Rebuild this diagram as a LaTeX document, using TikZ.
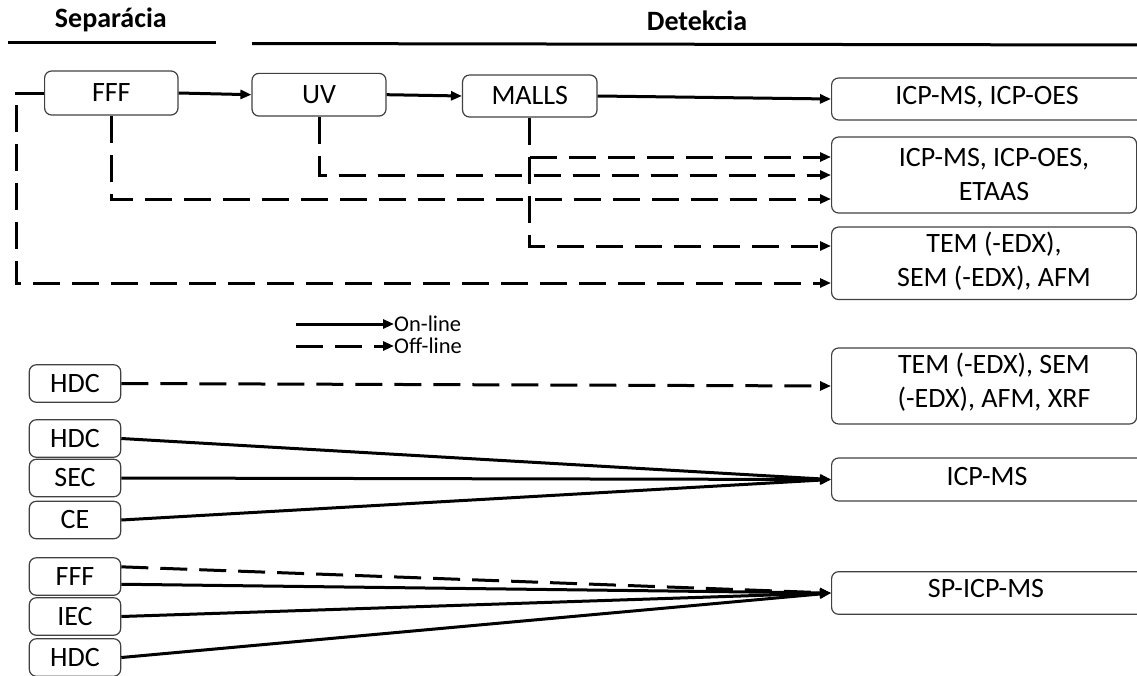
\documentclass[tikz,border=0pt]{standalone}
\usepackage{fontspec}
\setmainfont{Carlito}
\usetikzlibrary{arrows.meta,calc}
\begin{document}
\begin{tikzpicture}[x=1pt,y=-1pt,
  box/.style={draw=black!75, line width=1.2pt, rounded corners=7pt, inner sep=0pt},
  tbox/.style={box, font=\fontsize{28}{34}\selectfont},
  lbox/.style={box, minimum width=91.4pt, minimum height=37.5pt, font=\fontsize{28}{34}\selectfont},
  rbox/.style={box, anchor=west},
  lbl/.style={inner sep=0pt, align=center, font=\fontsize{28}{34}\selectfont},
  online/.style={line width=3pt, -{Triangle[length=11pt,width=9pt]}},
  offline/.style={online, dash pattern=on 27pt off 12pt},
  plain/.style={line width=3pt},
  legend/.style={inner sep=0pt, anchor=west, font=\fontsize{22.5}{26}\selectfont},
  title/.style={inner sep=0pt, font=\bfseries\fontsize{28}{34}\selectfont}
]
\useasboundingbox (0,0) rectangle (1137,675);

% headers
\node[title] (sep) at (110.8,20) {Separácia};
\node[title] (det) at (697,21) {Detekcia};
\draw[plain] (8,42) -- (216,42);
\draw[plain] (252,43.5) -- (1140,45);

% top chain
\node[tbox, minimum width=133.4pt, minimum height=44pt] (fff) at (111.3,93) {FFF};
\node[tbox, minimum width=134pt, minimum height=42.7pt] (uv) at (319,94.7) {UV};
\node[tbox, minimum width=134.5pt, minimum height=42pt] (malls) at (529.8,96) {MALLS};

% right boxes
\node[rbox, minimum width=320pt, minimum height=42pt] (b1) at (831,99) {};
\node[rbox, minimum width=305pt, minimum height=76pt] (b2) at (831,175) {};
\node[rbox, minimum width=305pt, minimum height=72.5pt] (b3) at (831,263.3) {};
\node[rbox, minimum width=305pt, minimum height=76pt] (b4) at (831,386) {};
\node[rbox, minimum width=320pt, minimum height=43pt] (b5) at (831,479.5) {};
\node[rbox, minimum width=320pt, minimum height=42.6pt] (b6) at (831,593) {};

\node[lbl] (t1) at (987,97) {ICP-MS, ICP-OES};
\node[lbl] (t2) at (994,174.5) {ICP-MS, ICP-OES,\\ETAAS};
\node[lbl] (t3) at (994,261.5) {TEM (-EDX),\\SEM (-EDX), AFM};
\node[lbl] (t4) at (994,382.5) {TEM (-EDX), SEM\\(-EDX), AFM, XRF};
\node[lbl] (t5) at (987,477) {ICP-MS};
\node[lbl] (t6) at (986,588) {SP-ICP-MS};

% arrow entry points
\coordinate (b2in1) at (831,157);
\coordinate (b2in3) at (831,199);
\coordinate (b3in1) at (831,246);
\coordinate (b3in2) at (831,283);
\coordinate (inA) at (15,93);
\coordinate (inB) at (16,105);

% top connectors
\draw[plain] (inA) -- (fff.west);
\draw[online] (fff.east) -- (uv.west);
\draw[online] (uv.east) -- (malls.west);
\draw[online] (malls.east) -- (b1.west);
\draw[offline] (uv.south) |- (b2.west);
\draw[offline] (fff.south) |- (b2in3);
\draw[offline] (malls.south) |- (b3in1);
\draw[offline] (malls.south |- b2in1) -- (b2in1);
\draw[offline] (inB) |- (b3in2);

% legend
\node[legend] (on) at (394,324) {On-line};
\node[legend] (off) at (394,346) {Off-line};
\coordinate (la) at (296,324);
\coordinate (lb) at (296,346);
\draw[online] (la) -- (on.west);
\draw[offline] (lb) -- (off.west);

% left boxes
\node[lbox] (hdcA) at (75,383.5) {HDC};
\node[lbox] (hdcB) at (75,438.5) {HDC};
\node[lbox] (sec) at (75,478) {SEC};
\node[lbox] (ce) at (75,520) {CE};
\node[lbox] (fffB) at (75,576.5) {FFF};
\node[lbox] (iec) at (75,616.5) {IEC};
\node[lbox] (hdcC) at (75,657.5) {HDC};

% bottom connectors
\draw[offline] (hdcA.east) -- (b4.west);
\draw[online] (hdcB.east) -- (b5.west);
\draw[online] (sec.east) -- (b5.west);
\draw[online] (ce.east) -- (b5.west);
\draw[offline] ($(fffB.north east)!0.25!(fffB.south east)$) -- (b6.west);
\draw[online] ($(fffB.north east)!0.7!(fffB.south east)$) -- (b6.west);
\draw[online] (iec.east) -- (b6.west);
\draw[online] (hdcC.east) -- (b6.west);
\end{tikzpicture}
\end{document}
